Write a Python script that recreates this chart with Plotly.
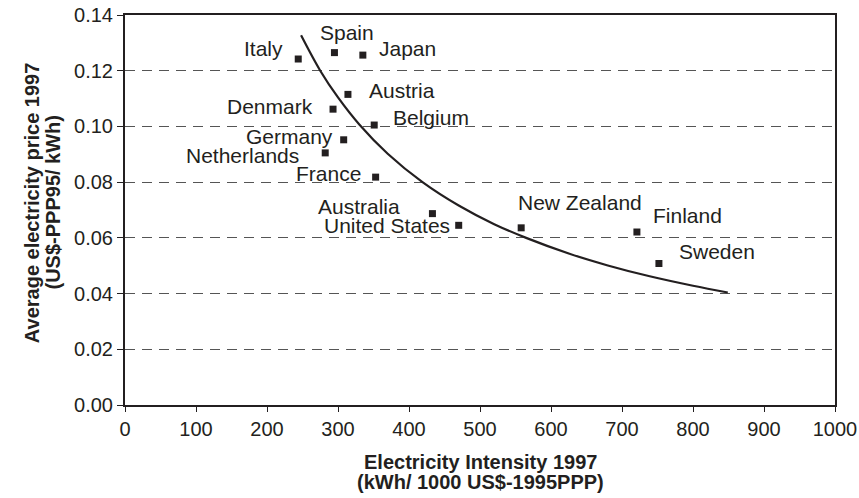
import plotly.graph_objects as go

# countries, electricity intensity (kWh / 1000 US$-1995PPP) and price (US$-PPP95 / kWh)
countries = ["Italy", "Spain", "Japan", "Austria", "Denmark", "Belgium", "Germany",
             "Netherlands", "France", "Australia", "United States", "New Zealand",
             "Finland", "Sweden"]
intensity = [244, 295, 335, 314, 293, 351, 308, 282, 353, 433, 470, 558, 721, 752]
price = [0.1242, 0.1265, 0.1256, 0.1115, 0.1062, 0.1005, 0.0952, 0.0905, 0.0818,
         0.0687, 0.0645, 0.0636, 0.0621, 0.0508]

# trend curve
trend_x = [248, 275, 300, 330, 370, 419, 470, 520, 565, 626, 680, 739, 800, 849]
trend_y = [0.1327, 0.1200, 0.1104, 0.1007, 0.0902, 0.0800, 0.0716, 0.0649, 0.0600,
           0.0543, 0.0501, 0.0462, 0.0428, 0.0404]

x_ticks = [0, 100, 200, 300, 400, 500, 600, 700, 800, 900, 1000]
y_ticks = [0.00, 0.02, 0.04, 0.06, 0.08, 0.10, 0.12, 0.14]

x_title = ["Electricity Intensity 1997", "(kWh/ 1000 US$-1995PPP)"]
y_title = ["Average electricity price 1997", "(US$-PPP95/ kWh)"]

# label placement: (xanchor, xshift, yshift)
label_pos = {
    "Italy": ("right", -13, 11),
    "Spain": ("center", 13, 20),
    "Japan": ("left", 14, 7),
    "Austria": ("left", 19, 4),
    "Denmark": ("right", -18, 3),
    "Belgium": ("left", 17, 8),
    "Germany": ("right", -9, 3),
    "Netherlands": ("right", -24, -3),
    "France": ("right", -13, 4),
    "Australia": ("right", -30, 7),
    "United States": ("right", -7, 0),
    "New Zealand": ("left", -5, 25),
    "Finland": ("left", 14, 17),
    "Sweden": ("left", 18, 12),
}

INK = "#231f20"
FONT = "Liberation Sans, Arial, sans-serif"

fig = go.Figure()

fig.add_trace(go.Scatter(
    x=trend_x, y=trend_y,
    mode="lines",
    line=dict(color=INK, width=2.2, shape="spline", smoothing=1.0),
    hoverinfo="skip",
    showlegend=False,
))

fig.add_trace(go.Scatter(
    x=intensity, y=price,
    mode="markers",
    marker=dict(symbol="square", size=7, color=INK),
    text=countries,
    hovertemplate="%{text}<br>%{x}<br>%{y:.3f}<extra></extra>",
    showlegend=False,
))

for name, xv, yv in zip(countries, intensity, price):
    anchor, dx, dy = label_pos[name]
    fig.add_annotation(
        x=xv, y=yv, text=name, showarrow=False,
        xanchor=anchor, yanchor="middle", xshift=dx, yshift=dy,
        font=dict(family=FONT, size=21, color=INK),
    )

# axis titles, one annotation per line to keep the tight line spacing
for line, ypos in zip(x_title, [-0.146, -0.197]):
    fig.add_annotation(
        xref="paper", yref="paper", x=0.5, y=ypos, text=f"<b>{line}</b>",
        showarrow=False, xanchor="center", yanchor="middle",
        font=dict(family=FONT, size=20, color=INK),
    )
for line, xpos in zip(y_title, [-0.131, -0.101]):
    fig.add_annotation(
        xref="paper", yref="paper", x=xpos, y=0.52, text=f"<b>{line}</b>",
        showarrow=False, xanchor="center", yanchor="middle", textangle=-90,
        font=dict(family=FONT, size=20, color=INK),
    )

fig.update_xaxes(
    range=[0, 1000],
    tickvals=x_ticks,
    ticks="outside", ticklen=5, tickcolor=INK, tickwidth=1,
    showline=True, linecolor=INK, linewidth=2, mirror=True,
    showgrid=False, zeroline=False, automargin=False,
    ticklabeloverflow="allow",
    tickfont=dict(family=FONT, size=20, color=INK),
)

fig.update_yaxes(
    range=[0, 0.14],
    tickvals=y_ticks,
    tickformat=".2f",
    ticks="outside", ticklen=6, tickcolor=INK, tickwidth=1,
    showline=True, linecolor=INK, linewidth=2, mirror=True,
    showgrid=True, gridcolor="#555555", gridwidth=1.3, griddash="10px,7px",
    zeroline=False, automargin=False,
    ticklabeloverflow="allow",
    tickfont=dict(family=FONT, size=20, color=INK),
)

fig.update_layout(
    width=859, height=498,
    margin=dict(l=125, r=24, t=15, b=93),
    paper_bgcolor="white",
    plot_bgcolor="white",
)

# drop the default body margin so the figure sits at the page corner
fig.write_html("out.html", config={"displayModeBar": False},
               post_script="document.body.style.margin = '0';")
